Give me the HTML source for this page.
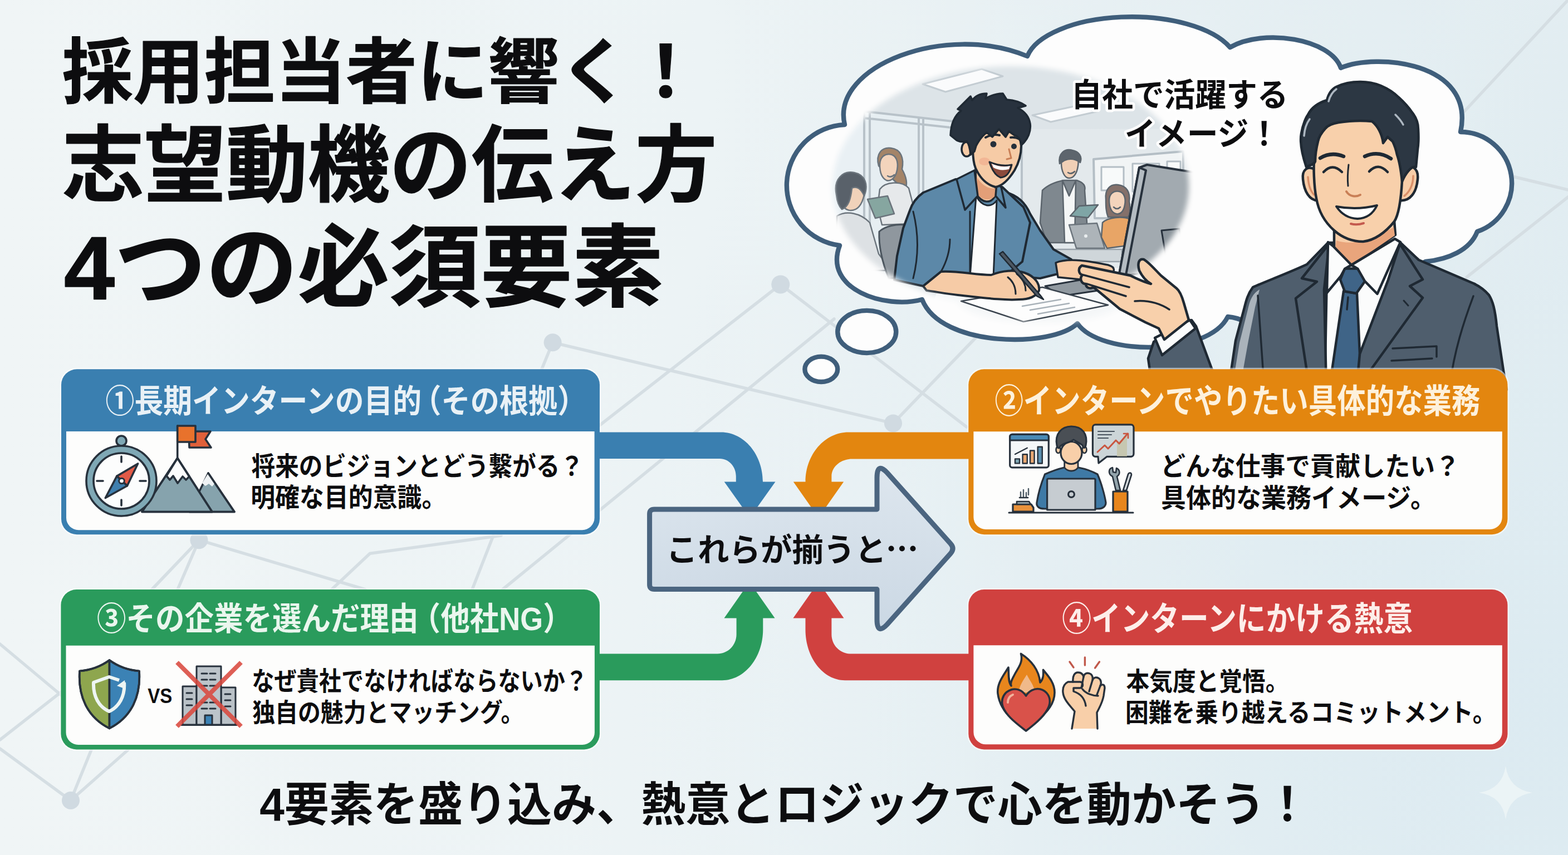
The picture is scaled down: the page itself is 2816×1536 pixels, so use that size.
<!DOCTYPE html>
<html lang="ja"><head><meta charset="utf-8"><title>採用担当者に響く！志望動機の伝え方 4つの必須要素</title>
<style>
html,body{margin:0;padding:0;background:#e9f0f4}
body{width:2816px;height:1536px;overflow:hidden;position:relative;font-family:"Liberation Sans",sans-serif}
svg{position:absolute;left:0;top:0;display:block}
svg text{font-family:"Liberation Sans","Noto Sans CJK JP",sans-serif;font-weight:bold}
.t{position:absolute;margin:0;color:transparent;white-space:nowrap;overflow:hidden;line-height:1;font-weight:bold}
</style></head><body>
<svg width="2816" height="1536" viewBox="0 0 2816 1536"><defs>
<linearGradient id="bgG" x1="0" y1="0" x2="1" y2="0"><stop offset="0" stop-color="#f0f5f6"/><stop offset=".45" stop-color="#ecf3f5"/><stop offset="1" stop-color="#e3edf1"/></linearGradient>
<radialGradient id="bgH" gradientUnits="userSpaceOnUse" cx="2816" cy="1300" r="1800"><stop offset="0" stop-color="#dbeaf1" stop-opacity=".9"/><stop offset=".5" stop-color="#deecf2" stop-opacity=".4"/><stop offset="1" stop-color="#e3eef3" stop-opacity="0"/></radialGradient>
<linearGradient id="arG" x1="0" y1="0" x2="0" y2="1"><stop offset="0" stop-color="#dde6ee"/><stop offset="1" stop-color="#cbd8e4"/></linearGradient>
<filter id="blurV" x="-20%" y="-20%" width="140%" height="140%"><feGaussianBlur stdDeviation="5"/></filter>
<mask id="vig" maskUnits="userSpaceOnUse" x="1380" y="40" width="820" height="620"><rect x="1380" y="40" width="820" height="620" fill="#000"/><g filter="url(#blurV)" fill="#fff"><ellipse cx="1815" cy="335" rx="320" ry="216"/><ellipse cx="1870" cy="538" rx="150" ry="42"/></g></mask>
</defs>

<rect width="2816" height="1536" fill="url(#bgG)"/>
<rect width="2816" height="1536" fill="url(#bgH)"/>
<g stroke="#d5dee3" stroke-width="5.5" fill="none" stroke-linecap="round">
<path d="M992.6,615.3 L1604,760.4"/>
<path d="M992.6,615.3 L973,663"/>
<path d="M1401.8,511 L1077,764"/>
<path d="M1401.8,511 L1736,767"/>
<path d="M1498,573 L902.5,1059"/>
<path d="M1752,607 L1604,760.4"/>
<path d="M2816,0 L2630,200"/>
<path d="M2704,314 L2816,341"/>
<path d="M2816,354 L2634,498"/>
<path d="M357.4,970.2 L272.7,1059"/>
<path d="M357.4,970.2 L319,1059"/>
<path d="M357.4,970.2 L656,1059"/>
<path d="M595.6,1059 L664.3,994.4 L900,962"/>
<path d="M886,962 L848,1059"/>
<path d="M0,1157 L110,1249"/>
<path d="M110,1243 L0,1329"/>
<path d="M0,1345 L127,1438"/>
<path d="M127,1438 L230,1347"/>
<path d="M127,1438 L164,1347"/>
</g>
<g fill="#d0dae1">
<circle cx="992.6" cy="615.3" r="16"/><circle cx="1401.8" cy="511" r="16.5"/><circle cx="357.4" cy="970.2" r="16"/>
<circle cx="127" cy="1438" r="16"/><circle cx="1604" cy="760.4" r="16"/>
</g>

<text x="111.4" y="175" font-size="128" fill="#0d0d0f" stroke="#0d0d0f" stroke-width="1.2" stroke-linejoin="round" textLength="1148" lengthAdjust="spacingAndGlyphs">採用担当者に響く！</text>
<text x="111.7" y="350" font-size="150" fill="#0d0d0f" stroke="#0d0d0f" stroke-width="1.3" stroke-linejoin="round" textLength="1176" lengthAdjust="spacingAndGlyphs">志望動機の伝え方</text>
<text x="114.7" y="538" font-size="161" fill="#0d0d0f" stroke="#0d0d0f" stroke-width="1.4" stroke-linejoin="round" textLength="1077" lengthAdjust="spacingAndGlyphs">4つの必須要素</text>

<path d="M1508,441 A109,109 0 0 1 1517,224 C1492,118 1700,40 1845,101 A190,86 0 0 1 2209,85
 C2270,50 2390,70 2408,122 C2470,95 2650,110 2623,237 A92,92 0 0 1 2653,416 C2640,450 2600,466 2560,470
 L2400,560 L2262,600 Q2240,572 2205,569 C2170,640 1975,640 1935,581 C1890,625 1690,625 1656,538
 C1590,556 1478,520 1508,441 Z" fill="#fdfdfd" stroke="#3f5e7b" stroke-width="8.4" stroke-linejoin="round"/>
<ellipse cx="1556.8" cy="596" rx="52.5" ry="38.1" fill="#fdfdfd" stroke="#3f5e7b" stroke-width="8.4"/>
<ellipse cx="1474.8" cy="663.3" rx="29.4" ry="22.7" fill="#fdfdfd" stroke="#3f5e7b" stroke-width="8.4"/>

<g id="scene" mask="url(#vig)" stroke-linejoin="round" stroke-linecap="round">
<!-- room -->
<rect x="1400" y="60" width="800" height="600" fill="#dfe6ea"/>
<path d="M1400,60 H2200 V230 L1835,232 L1552,200 L1400,215 Z" fill="#dde4e8"/>
<path d="M1552,200 L1835,232 L1835,470 L1552,470 Z" fill="#e6eef2"/>
<path d="M1400,215 L1552,200 V480 H1400 Z" fill="#e9f0f4"/>
<path d="M1835,232 H2200 V480 H1835 Z" fill="#e3e9ec"/>
<g fill="none" stroke="#b8c2c9" stroke-width="4">
<path d="M1552,200 V470 M1562,202 V470 M1650,212 V470 M1658,213 V470 M1552,200 L1835,232 M1552,212 L1835,243 M1835,232 V460"/>
</g>
<path d="M1657,151 L1763,124 L1801,137 L1698,165 Z M1854,207 L1934,190 L1972,200 L1887,219 Z" fill="#fafbfc" stroke="#c3ccd2" stroke-width="3"/>
<!-- whiteboard -->
<path d="M1964,286 L2125,272 L2125,392 L1966,392 Z" fill="#f1f4f5" stroke="#b4bec5" stroke-width="4"/>
<path d="M1978,300 h40 v42 h-40z M2034,294 h48 v50 h-48z M2096,290 h24 v40 h-24z" fill="#f8fafa" stroke="#b4bec5" stroke-width="3"/>
<!-- back desk -->
<path d="M1893,448 H2015 V470 H1893 Z" fill="#cfd6da" stroke="#9aa4ab" stroke-width="2.5"/>
<!-- bg man (from back) -->
<g stroke="#6b747c" stroke-width="2.5" transform="translate(0 16)">
<path d="M1503,372 C1520,362 1545,366 1562,384 L1578,440 L1600,470 L1500,470 Z" fill="#dde1e4"/>
<path d="M1506,330 C1502,308 1516,296 1532,298 C1548,300 1556,314 1552,334 C1548,352 1540,362 1528,362 C1516,362 1508,350 1506,330 Z" fill="#f0d2ba"/>
<path d="M1502,334 C1496,306 1514,290 1534,294 C1554,298 1560,316 1552,336 C1546,322 1538,318 1530,322 C1528,340 1524,356 1512,360 C1506,354 1503,344 1502,334 Z" fill="#59616a"/>
</g>
<!-- bg woman with tablet -->
<g stroke="#6b747c" stroke-width="2.5">
<path d="M1578,298 C1572,276 1584,264 1600,266 C1618,268 1624,284 1620,304 C1628,318 1630,330 1626,340 L1612,330 Z" fill="#a48468"/>
<path d="M1580,296 C1580,282 1590,274 1602,278 C1612,282 1614,296 1610,310 C1606,322 1598,326 1592,324 C1584,320 1580,310 1580,296 Z" fill="#f3d4bc"/>
<path d="M1580,340 C1590,326 1620,324 1632,338 L1642,376 L1636,402 L1584,404 L1576,372 Z" fill="#e6e9eb"/>
<path d="M1558,358 L1594,352 L1606,384 L1572,392 Z" fill="#86a6a0"/>
<path d="M1594,316 Q1600,320 1606,314" fill="none"/>
</g>
<!-- chair -->
<path d="M1579,416 C1590,406 1610,402 1626,404 L1626,500 L1596,500 C1584,470 1578,440 1579,416 Z" fill="#8f979e" stroke="#4b555e" stroke-width="3"/>
<!-- standing man -->
<g stroke="#5b646c" stroke-width="2.5">
<path d="M1872,342 C1884,330 1900,326 1910,324 L1934,324 C1946,328 1950,334 1948,342 L1952,400 L1940,436 L1880,436 L1868,400 Z" fill="#7f888f"/>
<path d="M1908,324 L1920,352 L1932,324 L1930,436 L1912,436 Z" fill="#f4f6f6"/>
<path d="M1906,292 C1906,278 1914,272 1924,274 C1934,276 1938,286 1936,298 C1934,312 1928,320 1920,320 C1912,320 1906,308 1906,292 Z" fill="#f1d0b6"/>
<path d="M1903,294 C1900,276 1912,266 1926,270 C1938,272 1944,282 1940,292 C1932,286 1922,284 1912,288 Z" fill="#5d656d"/>
<path d="M1922,388 L1938,370 L1972,368 L1954,391 Z" fill="#7fa5a6"/>
<path d="M1918,310 Q1924,314 1930,308" fill="none"/>
</g>
<!-- laptop on back desk -->
<path d="M1920,404 L1970,401 L1984,446 L1933,446 Z" fill="#adb4b9" stroke="#6b747c" stroke-width="2.5"/>
<circle cx="1950" cy="424" r="3" fill="#e8ecee"/>
<!-- sitting woman -->
<g stroke="#5b646c" stroke-width="2.5">
<path d="M1986,358 C1984,340 1994,330 2008,332 C2024,334 2030,346 2028,362 C2030,374 2030,384 2026,390 L1990,390 C1986,380 1986,370 1986,358 Z" fill="#84706a"/>
<path d="M1992,360 C1992,348 2000,342 2010,344 C2020,346 2022,358 2020,368 C2018,380 2012,386 2004,384 C1996,382 1992,372 1992,360 Z" fill="#f3d4bc"/>
<path d="M1980,400 C1990,390 2016,388 2030,394 L2034,440 L1988,446 L1978,426 Z" fill="#e8a566"/>
<path d="M2000,372 Q2006,378 2012,372" fill="none"/>
</g>
<!-- desk surface -->
<path d="M1690,505 L1890,470 L2200,500 L2200,640 L1640,640 Z" fill="#f5f7f8"/>
<!-- monitor -->
<g stroke="#27313c" stroke-width="4">
<path d="M2046,301 L2060,296 L2160,312 L2160,480 L2030,494 L2010,492 Z" fill="#a2aab0"/>
<path d="M2046,301 L2010,492 L2022,494 L2058,306 Z" fill="#b4bcc2"/>
<path d="M2086,414 L2118,411 L2126,460 L2094,462 Z" fill="#8a939a" stroke-width="3"/>
</g>
<!-- keyboard -->
<path d="M1877,514 L1940,503 L1972,522 L1905,532 Z" fill="#9099a0" stroke="#27313c" stroke-width="3"/>
<!-- paper -->
<path d="M1726,541 L1872,516 L1990,548 L1838,578 Z" fill="#fdfdfd" stroke="#39434d" stroke-width="2.5"/>
<path d="M1836,550 L1905,538 M1850,557 L1920,545 M1864,564 L1930,552" fill="none" stroke="#a9b2b9" stroke-width="2.5"/>
<!-- young man -->
<g stroke="#1f2933" stroke-width="4">
<!-- right arm (behind body) -->
<path d="M1808,346 C1830,352 1842,366 1850,384 L1868,414 L1892,448 L1924,466 L1908,490 L1868,500 L1790,494 Z" fill="#5c88a8"/>
<path d="M1896,472 C1920,462 1960,470 1990,476 C2004,480 2004,490 1990,492 L1940,502 L1900,498 Z" fill="#f6cba6" stroke-width="3.5"/>
<!-- body -->
<path d="M1716,322 L1658,346 C1644,356 1638,366 1634,378 L1622,410 L1611,460 L1606,503 L1658,514 L1690,488 L1740,500 L1800,500 L1836,470 L1850,400 L1838,372 L1800,336 Z" fill="#5c88a8"/>
<path d="M1640,380 C1650,420 1650,460 1640,500 M1690,488 C1700,470 1706,450 1706,430" fill="none" stroke-width="3"/>
<!-- tee -->
<path d="M1753,352 C1764,372 1780,374 1790,360 L1784,498 L1742,498 Z" fill="#fbfbfb" stroke-width="3"/>
<!-- neck -->
<path d="M1752,300 L1753,348 C1764,366 1780,366 1787,352 L1788,330 Z" fill="#f6cba6" stroke-width="3.5"/>
<path d="M1754,318 C1766,336 1778,340 1788,338 L1787,352 C1778,362 1764,360 1754,348 Z" fill="#e39f78" stroke="none"/>
<!-- collar -->
<path d="M1718,322 L1733,377 L1756,352 L1750,306 Z" fill="#5c88a8" stroke-width="3.5"/>
<path d="M1798,336 L1806,373 L1788,352 L1790,330 Z" fill="#5c88a8" stroke-width="3.5"/>
<path d="M1742,380 V498" fill="none" stroke-width="3"/>
<!-- ear + face -->
<ellipse cx="1736" cy="268" rx="9" ry="13" fill="#f6cba6" stroke-width="3.5"/>
<path d="M1748,250 C1746,276 1748,292 1752,302 C1760,320 1772,332 1788,336 C1800,334 1812,322 1822,306 C1830,292 1834,276 1834,262 L1830,236 L1770,230 Z" fill="#f6cba6"/>
<ellipse cx="1768" cy="290" rx="10" ry="7" fill="#f0a98a" stroke="none" opacity=".6"/>
<!-- mouth -->
<path d="M1777,291 Q1798,300 1817,296 Q1812,318 1797,319 Q1784,314 1777,291 Z" fill="#8c4b3c" stroke-width="3"/>
<path d="M1781,294 Q1798,302 1814,298 L1812,304 Q1796,308 1784,301 Z" fill="#fff" stroke="none"/>
<!-- eyes brows nose -->
<circle cx="1784" cy="259" r="5.5" fill="#26303b" stroke="none"/><circle cx="1821" cy="263" r="5" fill="#26303b" stroke="none"/>
<path d="M1770,247 Q1782,240 1795,243 M1815,247 Q1824,246 1831,250" fill="none" stroke-width="4"/>
<path d="M1812,268 L1816,284 L1808,286" fill="none" stroke="#c97f56" stroke-width="3"/>
<!-- hair -->
<path d="M1707,243 C1708,222 1714,208 1726,199 L1720,196 C1730,186 1738,178 1743,173 L1746,180 C1752,172 1762,168 1772,168 L1770,177 C1782,170 1792,168 1801,168 L1808,179 C1822,180 1834,184 1842,190 L1828,194 C1840,200 1848,210 1850,222 C1852,236 1846,250 1835,260 C1832,250 1828,244 1822,243 L1812,236 L1806,246 L1794,232 L1782,246 L1772,238 C1762,246 1756,256 1753,262 L1750,272 L1743,278 C1742,266 1740,258 1736,254 C1728,256 1722,254 1718,252 Z" fill="#28323e" stroke-width="3.5"/>
<!-- left forearm + hand + pen -->
<path d="M1658,514 L1690,488 C1720,486 1750,494 1780,494 C1800,486 1822,484 1840,490 C1858,496 1868,510 1866,522 C1860,534 1846,538 1830,538 C1800,540 1760,534 1720,530 C1700,528 1680,524 1664,522 Z" fill="#f6cba6"/>
<path d="M1801,452 L1868,530 L1874,538 L1862,532 L1795,456 Z" fill="#4d5863" stroke-width="2.5"/>
<path d="M1826,492 C1836,500 1842,510 1842,522 M1810,498 C1820,506 1824,516 1824,528" fill="none" stroke-width="3"/>
</g>
</g>

<text x="1923.6" y="190.5" font-size="58" fill="#0d0d0f" stroke="#fff" stroke-width="9.5" stroke-linejoin="round" paint-order="stroke" textLength="390" lengthAdjust="spacingAndGlyphs">自社で活躍する</text>
<text x="2019.8" y="260.9" font-size="58" fill="#0d0d0f" stroke="#fff" stroke-width="9.5" stroke-linejoin="round" paint-order="stroke" textLength="278.5" lengthAdjust="spacingAndGlyphs">イメージ！</text>
<g id="man" stroke="#1f2933" stroke-width="4.5" stroke-linejoin="round" stroke-linecap="round">
<!-- jacket -->
<path d="M2385,436 L2347,475 C2310,492 2272,506 2250,516 C2241,528 2238,540 2235,552 L2219,612 L2206,700 L2706,700 L2701,672 L2688,586 C2685,556 2681,541 2674,530 C2662,516 2652,512 2646,509 L2548,467 L2515,436 Z" fill="#4f5e6d"/>
<path d="M2262,520 C2246,530 2244,545 2241,556 L2226,616 L2214,690 L2228,690 L2242,612 L2254,552 Z" fill="#aab3bb" stroke="none"/>
<!-- shirt -->
<path d="M2384,440 L2379,700 L2440,700 L2495,500 L2516,440 Z" fill="#fbfcfc"/>
<!-- tie -->
<path d="M2413,523 L2437,527 L2445,700 L2387,700 Z" fill="#3f6487"/>
<path d="M2415,482.5 L2438.5,482.5 L2451.5,505 L2436,527 L2415,523.5 L2407,502.5 Z" fill="#3f6487"/>
<path d="M2421,534 L2419,556" fill="none" stroke-width="3.5"/>
<!-- lapels -->
<path d="M2387,438 L2338,500 L2365,506 L2327,536 L2352,700 L2382,700 L2378,520 Z" fill="#4f5e6d"/>
<path d="M2514,438 L2555,502 L2532,514 L2555,535 L2436,700 L2442,636 L2493,503 Z" fill="#4f5e6d"/>
<path d="M2521,540 L2529,549" fill="none" stroke-width="3"/>
<!-- neck -->
<path d="M2396,408 L2396,446 L2427,477 L2506,422 L2504,396 Z" fill="#f7cda8"/>
<path d="M2400,432 Q2440,446 2503,408 L2505,423 L2427,476 L2398,447 Z" fill="#e9a57c" stroke="none"/>
<!-- collar -->
<path d="M2385,435 L2394,442 L2427,476 L2415,483 L2408,496 L2383,526 Z" fill="#fbfcfc"/>
<path d="M2515,435 L2505,429 L2427,476 L2438.5,483 L2451,505 L2473.5,528 Z" fill="#fbfcfc"/>
<!-- pocket / creases -->
<path d="M2501,626 L2580,622 L2580,641 M2499,648 L2572,644" fill="none" stroke-width="3.5"/>
<path d="M2259,531 C2262,580 2266,630 2270,690" fill="none" stroke-width="3.5"/>
<path d="M2646,532 C2628,580 2612,630 2604,690" fill="none" stroke-width="3.5"/>
<!-- ears -->
<path d="M2362,305 C2348,296 2338,306 2340,322 C2342,344 2352,360 2366,360 Z" fill="#f7cda8"/>
<path d="M2518,305 C2534,292 2548,302 2546,322 C2544,346 2532,362 2514,360 Z" fill="#f7cda8"/>
<path d="M2349,318 C2350,334 2354,344 2360,350 M2538,316 C2538,334 2530,346 2522,352" fill="none" stroke="#d98f68" stroke-width="3.5"/>
<!-- face -->
<path d="M2361,270 C2358,300 2360,336 2364,356 C2368,380 2378,398 2396,414 C2412,428 2430,434 2448,434 C2468,432 2488,418 2504,398 C2512,386 2516,360 2518,325 C2520,290 2514,262 2500,236 L2470,205 L2390,205 L2364,240 Z" fill="#f8d0ab"/>
<!-- hair -->
<path d="M2346,300 C2338,276 2334,256 2337,240 C2340,222 2346,210 2349,206 C2356,192 2370,184 2383,180 C2386,168 2392,160 2400,156 C2412,150 2428,147 2443,147 C2458,147 2470,150 2480,154 C2494,160 2504,167 2512,175 C2524,186 2532,196 2536,202 C2544,212 2547,222 2547,232 C2548,250 2547,262 2546,268 L2543,300 C2534,298 2524,312 2518,326 C2516,306 2514,292 2509,278 C2507,268 2504,260 2501,254 L2492,246 L2484,257 C2482,240 2474,226 2464,218 C2444,216 2424,217 2404,220 C2392,222 2384,226 2380,231 C2372,240 2368,248 2367,254 C2364,266 2362,278 2362,290 C2360,296 2354,296 2346,300 Z" fill="#2c3743"/>
<path d="M2352,214 C2346,222 2343,232 2342,244 M2400,160 C2392,166 2388,174 2386,182 M2506,206 C2512,212 2517,218 2520,224" fill="none" stroke="#aeb8c2" stroke-width="3.5"/>
<!-- brows -->
<path d="M2371,284 Q2391,272 2413,281" fill="none" stroke-width="6.5"/>
<path d="M2451,281 Q2475,270 2498,285" fill="none" stroke-width="6.5"/>
<!-- eyes -->
<path d="M2377,309 Q2393,292 2410,309" fill="none" stroke-width="4.5"/>
<path d="M2459,308 Q2475,291 2492,309" fill="none" stroke-width="4.5"/>
<!-- nose -->
<path d="M2422,296 C2420,312 2420,324 2421,334" fill="none" stroke-width="3"/>
<path d="M2418,344 C2424,354 2436,354 2443,350" fill="none" stroke="#c97f56" stroke-width="4"/>
<!-- mouth -->
<path d="M2400,371 Q2437,378 2473,369 Q2462,392 2438,393 Q2414,392 2400,371 Z" fill="#fff" stroke-width="4"/>
<path d="M2426,402 Q2437,405 2449,401" fill="none" stroke="#c45a4e" stroke-width="4"/>
<!-- sleeve + cuff + hand -->
<path d="M2140,575 L2148,586 L2190,700 L2070,700 L2062,644 L2072,614 Z" fill="#4f5e6d"/>
<path d="M2074,607 L2137,575 L2147,590 L2087,638 Z" fill="#fbfcfc"/>
<path d="M1943,477 C1935,482 1937,492 1944,494 C1938,500 1942,510 1950,510 C1950,516 1956,520 1964,516 L2011,555 L2057,579 L2081,590 L2091,610 L2135,575 L2126,544 C2122,530 2118,522 2113,518 L2085,495 C2072,482 2062,470 2054,466 C2046,464 2042,472 2046,486 C2052,498 2060,506 2067,510 C2052,506 2040,500 2030,495 Z" fill="#f8d0ab"/>
<path d="M1946,494 L2028,516 M1952,510 L2022,532 M2038,541 Q2072,538 2100,556" fill="none" stroke-width="3.5"/>
</g>

<rect x="110" y="663.3" width="967" height="296.9" rx="28" fill="#3a7fb0" stroke="#fff" stroke-opacity=".55" stroke-width="5" paint-order="stroke"/><path d="M119,775 H1067.6 V930.2 a22,22 0 0 1 -22,22 H141 a22,22 0 0 1 -22,-22 Z" fill="#fdfdfc"/><rect x="1739.3" y="663.3" width="968.2" height="296.9" rx="28" fill="#e3860f" stroke="#fff" stroke-opacity=".55" stroke-width="5" paint-order="stroke"/><path d="M1748.4,775.3 H2697.8 V929 a22,22 0 0 1 -22,22 H1770.4 a22,22 0 0 1 -22,-22 Z" fill="#fdfdfc"/><rect x="109.4" y="1059" width="967.6" height="287.4" rx="28" fill="#2a9b5c" stroke="#fff" stroke-opacity=".55" stroke-width="5" paint-order="stroke"/><path d="M118.5,1159.8 H1067.9 V1315.9 a22,22 0 0 1 -22,22 H140.5 a22,22 0 0 1 -22,-22 Z" fill="#fdfdfc"/><rect x="1739.3" y="1059" width="968.2" height="287.4" rx="28" fill="#d0413f" stroke="#fff" stroke-opacity=".55" stroke-width="5" paint-order="stroke"/><path d="M1748.4,1159.3 H2697.8 V1315.3 a22,22 0 0 1 -22,22 H1770.4 a22,22 0 0 1 -22,-22 Z" fill="#fdfdfc"/>

<path d="M1070,776.4 H1295 C1336.4,776.4 1370,816.3 1370,865.5 H1392.5 L1346.6,930 L1300.7,865.5 H1321.8 V855.6 C1321.8,838.1 1308.8,823.9 1292.8,823.9 H1070 Z" fill="#3a7fb0"/>
<path d="M1745,776.4 H1523.8 C1481.2,776.4 1446.6,816.3 1446.6,865.5 H1424.8 L1470,930 L1515.2,865.5 H1493.4 V855.6 C1493.4,838.5 1510,824.6 1530.4,824.6 H1745 Z" fill="#e3860f"/>
<path d="M1070,1222.2 H1297 C1337.3,1222.2 1370.3,1181.3 1370.3,1131 V1110.5 H1391.6 L1346,1045.6 L1300.5,1110.5 H1322.6 V1139.7 C1322.6,1159 1307.2,1174.5 1288.4,1174.5 H1070 Z" fill="#2a9b5c"/>
<path d="M1745,1222.2 H1517.6 C1478.3,1222.2 1446.5,1181.3 1446.5,1131 V1110.5 H1424.4 L1470,1045.6 L1515.5,1110.5 H1493.4 V1139.7 C1493.4,1159 1508.7,1174.5 1527.6,1174.5 H1745 Z" fill="#d0413f"/>
<path d="M1166.6,923 Q1166.6,914.9 1175,914.9 H1575 V858 Q1575,830 1593,849 L1707,976.5 Q1715,985.5 1707,994.5 L1593,1122 Q1575,1141 1575,1113 V1058.6 H1175 Q1166.6,1058.6 1166.6,1050.5 Z" fill="url(#arG)" stroke="#4b6580" stroke-width="9" stroke-linejoin="round"/>

<g id="icons" stroke="#27313c" stroke-width="3.6" stroke-linejoin="round" stroke-linecap="round">
<!-- ===== icon 1: compass + mountain + flag ===== -->
<path d="M374,850 L421,919.5 H340 Z" fill="#86a3ad"/>
<path d="M374,850 L363,868 L369,873 L375,869 L381,874 L386,868 Z" fill="#eef2f4" stroke="none"/>
<path d="M374,850 L421,919.5 H340" fill="none"/>
<path d="M318.7,823 L381,919.5 H255 Z" fill="#86a3ad"/>
<path d="M318.7,823 L299,855 L305,862 L311,855 L319,868 L328,856 L334,862 L340,856 Z" fill="#fcfdfd"/>
<path d="M318.7,823 L381,919.5 H255 Z" fill="none"/>
<path d="M318.7,823 V765" fill="none"/>
<path d="M339,775 H378 L369,789 L379,804 H340 Z" fill="#e0603a"/>
<path d="M318.7,765 H351 V794 H318.7 Z" fill="#e8722c"/>
<circle cx="218" cy="792" r="9" fill="#7fa8b5"/>
<circle cx="218" cy="864" r="63" fill="#7fa8b5"/>
<circle cx="218" cy="864" r="50" fill="#fcfdfd"/>
<path d="M218,820 V830 M218,898 V908 M174,864 H185 M251,864 H262" fill="none"/>
<path d="M247.6,833 L228.4,872.7 L209.8,855.4 Z" fill="#e25a47"/>
<path d="M189.3,894.5 L209.8,855.4 L228.4,872.7 Z" fill="#3f7fae"/>
<circle cx="218.5" cy="864" r="4.8" fill="#fcfdfd" stroke-width="3"/>
<!-- ===== icon 2: worker at laptop ===== -->
<g stroke-width="3.2">
<rect x="1813.7" y="780.4" width="69.6" height="59.5" rx="4" fill="#f4f7f8"/>
<path d="M1813.7,791 V784.4 a4,4 0 0 1 4,-4 H1879.3 a4,4 0 0 1 4,4 V791 Z" fill="#4a8ab5"/>
<path d="M1823,824.4 h8 v8 h-8z" fill="#7fa8b5" stroke-width="2.4"/>
<path d="M1836.6,816.3 h8.2 v16.2 h-8.2z M1850,809.5 h7.6 v23 h-7.6z" fill="#e9a872" stroke-width="2.4"/>
<path d="M1863.7,802.7 h8.1 v29.8 h-8.1z" fill="#5b8fae" stroke-width="2.4"/>
<path d="M1823,816 L1844.8,804.8" fill="none" stroke-width="2.4"/>
<!-- bubble -->
<path d="M1967.4,762.8 H2031 a5,5 0 0 1 5,5 V815.3 a5,5 0 0 1 -5,5 H1988 L1973,832 L1972,820.3 H1967.4 a5,5 0 0 1 -5,-5 V767.8 a5,5 0 0 1 5,-5 Z" fill="#ccd5d8"/>
<path d="M2006,820 V796 L2024,782 V820 Z" fill="#c4c3a8" stroke="none" opacity=".8"/>
<path d="M1972,775 H2001 M1972,781 H1996 M1972,787 H1990" fill="none" stroke="#4a5560" stroke-width="2.2"/>
<path d="M1971,812 L1984,800 L1990,806 L2004,791 L2010,797 L2025,779" fill="none" stroke="#c9553f" stroke-width="3"/>
<path d="M2018,779 H2026 V787" fill="none" stroke="#c9553f" stroke-width="2.6"/>
<!-- body -->
<path d="M1876.5,852 C1890,846 1902,842 1911,840 H1937 C1948,842 1960,846 1971,852 C1978,868 1984,890 1986,903 C1986,910 1980,914 1972,914 H1876 C1866,914 1861,910 1862,903 C1864,890 1870,868 1876.5,852 Z" fill="#3f7aa6"/>
<path d="M1911.7,828 V840 C1918,848 1930,848 1936,840 V828 Z" fill="#f8cfa9" stroke-width="2.8"/>
<ellipse cx="1900.5" cy="808" rx="4" ry="6" fill="#f8cfa9" stroke-width="2.6"/><ellipse cx="1947.5" cy="808" rx="4" ry="6" fill="#f8cfa9" stroke-width="2.6"/>
<ellipse cx="1924" cy="813.5" rx="19" ry="20" fill="#f8cfa9"/>
<path d="M1898,800 C1894,780 1906,766 1924,766 C1944,766 1954,780 1950,800 C1948,806 1946,806 1944,800 C1940,796 1934,794 1928,790 C1920,796 1908,796 1904,802 C1902,806 1899,806 1898,800 Z" fill="#4a4f55"/>
<!-- laptop -->
<path d="M1880.6,862 a2,2 0 0 1 2,-2 H1965 a2,2 0 0 1 2,2 V916 H1880.6 Z" fill="#c6ccd1"/>
<circle cx="1924" cy="888" r="5.4" fill="#c6ccd1"/>
<!-- cup etc -->
<path d="M1999,883 H2025 V919 H1999 Z" fill="#e8861d"/>
<path d="M2004,881 L1998,856 C1990,852 1990,842 1998,840 L1999,848 L2004,849 L2005,841 C2012,844 2012,852 2006,856 L2012,881 Z" fill="#93a4ab" stroke-width="2.6"/>
<path d="M2017,881 L2026,852 C2028,848 2032,849 2032,853 L2023,881 Z" fill="#d5dadd" stroke-width="2.6"/>
<path d="M1819,906 H1852 L1856,912 V919 H1819 Z" fill="#e8923c"/><path d="M1826,901 H1848 L1851,906 H1826 Z" fill="#9fb1b7" stroke-width="2.6"/>
<path d="M1833,893 V884 M1838,893 V880 M1843,893 V885 M1847,889 V878" fill="none" stroke="#4c5964" stroke-width="2.4"/>
<path d="M1831,894 H1846" fill="none" stroke-width="2.6"/>
<path d="M1812,921 H2035" fill="none" stroke-width="3"/>
</g>
<!-- ===== icon 3: shield vs building ===== -->
<path d="M196.5,1186 C180,1198 162,1204 143,1205.5 C140,1250 156,1288 196.5,1308.5 Z" fill="#8ea64e"/>
<path d="M196.5,1186 C213,1198 231,1204 250,1205.5 C253,1250 237,1288 196.5,1308.5 Z" fill="#3b82b5"/>
<path d="M196.5,1186 C180,1198 162,1204 143,1205.5 C140,1250 156,1288 196.5,1308.5 C237,1288 253,1250 250,1205.5 C231,1204 213,1198 196.5,1186 Z" fill="none"/>
<path d="M214,1222 L196,1216 L168,1226 C167,1252 178,1270 196,1278 C214,1270 225,1250 223,1226" fill="none" stroke="#edf5f3" stroke-width="6" stroke-linecap="butt"/>
<path d="M210,1232 L224,1222 L226,1238" fill="#edf5f3" stroke="none"/>
<g stroke-width="3">
<path d="M328,1233 H353 V1302 H328 Z M397,1235 H423 V1302 H397 Z" fill="#b9c1c7"/>
<path d="M353,1197 H397 V1302 H353 Z" fill="#bcc4ca"/>
<path d="M368,1285 H381 V1302 H368 Z" fill="#3b82b5"/>
<path d="M362,1210 h10 M377,1210 h10 M362,1221 h10 M377,1221 h10 M362,1232 h10 M377,1232 h10 M362,1262 h10 M377,1262 h10 M362,1273 h10 M377,1273 h10 M335,1245 h10 M335,1256 h10 M335,1267 h10 M404,1247 h10 M404,1258 h10 M404,1269 h10" fill="none" stroke-width="3"/>
<path d="M326,1302.5 H425" fill="none"/>
</g>
<path d="M318,1190 L433,1305 M433,1190 L318,1305" fill="none" stroke="#d9493f" stroke-width="8" stroke-linecap="butt" opacity=".88"/>
<!-- ===== icon 4: burning heart + fist ===== -->
<path d="M1833.5,1174.5 C1838,1190 1828,1200 1822,1212 C1818,1220 1814,1226 1816,1232 C1810,1224 1812,1210 1811,1199 C1802,1214 1790,1228 1792,1246 C1794,1262 1800,1272 1808,1282 L1876,1282 C1886,1272 1894,1260 1894,1244 C1894,1226 1882,1214 1873.5,1203.5 C1874,1212 1874,1220 1868,1226 C1866,1204 1852,1186 1833.5,1174.5 Z" fill="#e8861d"/>
<path d="M1844,1212 C1838,1222 1830,1232 1830,1244 L1858,1244 C1858,1232 1850,1224 1844,1212 Z" fill="#f0b98a" stroke="none"/>
<path d="M1842.6,1250 C1836,1240 1826,1236 1816,1239 C1804,1243 1798,1254 1800,1266 C1804,1284 1826,1300 1842.6,1313 C1860,1300 1882,1282 1885,1264 C1887,1252 1880,1241 1868,1238 C1858,1236 1848,1241 1842.6,1250 Z" fill="#d9524a"/>
<path d="M1810,1262 C1810,1254 1814,1250 1819,1248" fill="none" stroke="#f3b39d" stroke-width="4"/>
<g stroke-width="3.4">
<path d="M1925,1309 L1930,1278 C1920,1266 1910,1256 1909,1244 C1908,1234 1912,1228 1918,1225 H1927 C1926,1214 1930,1208 1936,1208 C1942,1208 1945,1212 1946,1216 C1947,1210 1952,1208 1957,1210 C1962,1212 1963,1216 1962,1222 C1964,1216 1970,1216 1974,1219 C1978,1222 1978,1228 1976,1232 C1980,1228 1984,1230 1984,1236 L1982,1250 C1980,1262 1974,1272 1970,1280 L1971,1309" fill="#f8cfa9"/>
<path d="M1927,1225 H1940 C1946,1226 1946,1234 1940,1236 H1928 V1242 C1940,1246 1948,1254 1950,1268" fill="none"/>
<path d="M1946,1216 L1942,1236 M1962,1222 L1956,1242 M1976,1232 L1970,1248 M1944,1238 C1950,1246 1962,1250 1972,1250" fill="none"/>
</g>
<path d="M1921,1189 L1928,1199 M1948.4,1181 V1195 M1974.4,1189 L1966.6,1200" fill="none" stroke="#c0584a" stroke-width="3.4"/>
</g>

<text x="189.6" y="741.4" font-size="58" fill="#e9f1f6" textLength="567.6" lengthAdjust="spacingAndGlyphs">①長期インターンの目的</text>
<text x="740.3" y="741.4" font-size="58" fill="#e9f1f6" textLength="313.2" lengthAdjust="spacingAndGlyphs">（その根拠）</text>
<text x="1786.4" y="742.1" font-size="60" fill="#fdf1dc" textLength="872.1" lengthAdjust="spacingAndGlyphs">②インターンでやりたい具体的な業務</text>
<text x="173.9" y="1131.9" font-size="58" fill="#eaf6ee" textLength="577.5" lengthAdjust="spacingAndGlyphs">③その企業を選んだ理由</text>
<text x="738.6" y="1131.9" font-size="58" fill="#eaf6ee" textLength="289.2" lengthAdjust="spacingAndGlyphs">（他社NG）</text>
<text x="1907.2" y="1132.5" font-size="60" fill="#fdeeea" textLength="630" lengthAdjust="spacingAndGlyphs">④インターンにかける熱意</text>
<text x="451.6" y="854" font-size="47" fill="#0d0d0f" textLength="596.4" lengthAdjust="spacingAndGlyphs">将来のビジョンとどう繋がる？</text>
<text x="450.2" y="910.4" font-size="47" fill="#0d0d0f" textLength="351.2" lengthAdjust="spacingAndGlyphs">明確な目的意識。</text>
<text x="2084.3" y="853.8" font-size="47" fill="#0d0d0f" textLength="537.6" lengthAdjust="spacingAndGlyphs">どんな仕事で貢献したい？</text>
<text x="2085.1" y="910.7" font-size="47" fill="#0d0d0f" textLength="492.8" lengthAdjust="spacingAndGlyphs">具体的な業務イメージ。</text>
<text x="452.2" y="1240.4" font-size="47" fill="#0d0d0f" textLength="603" lengthAdjust="spacingAndGlyphs">なぜ貴社でなければならないか？</text>
<text x="453.2" y="1295.5" font-size="46" fill="#0d0d0f" textLength="487.2" lengthAdjust="spacingAndGlyphs">独自の魅力とマッチング。</text>
<text x="2022.5" y="1239.9" font-size="46" fill="#0d0d0f" textLength="291.9" lengthAdjust="spacingAndGlyphs">本気度と覚悟。</text>
<text x="2021" y="1295.6" font-size="46" fill="#0d0d0f" textLength="665.6" lengthAdjust="spacingAndGlyphs">困難を乗り越えるコミットメント。</text>
<text x="265.2" y="1263.3" font-size="36" fill="#0d0d0f" textLength="44" lengthAdjust="spacingAndGlyphs">VS</text>
<text x="1196.5" y="1008.3" font-size="57" fill="#0d0d0f" textLength="395.5" lengthAdjust="spacingAndGlyphs">これらが揃うと</text>
<g fill="#0d0d0f"><circle cx="1600.6" cy="985.5" r="5"/><circle cx="1620" cy="985.5" r="5"/><circle cx="1639.5" cy="985.5" r="5"/></g>
<text x="466.2" y="1475.3" font-size="84" fill="#0d0d0f" textLength="1886" lengthAdjust="spacingAndGlyphs">4要素を盛り込み、熱意とロジックで心を動かそう！</text>
<path d="M2704,1376 Q2710,1418 2752,1424 Q2710,1430 2704,1472 Q2698,1430 2656,1424 Q2698,1418 2704,1376 Z" fill="#ebf4f6"/></svg>
<h1 class="t" style="left:114px;top:66px;width:1056px;height:121px;font-size:130px">採用担当者に響く！</h1>
<h1 class="t" style="left:115px;top:221px;width:1165px;height:147px;font-size:158px">志望動機の伝え方</h1>
<h1 class="t" style="left:118px;top:401px;width:1069px;height:151px;font-size:163px">4つの必須要素</h1>
<p class="t" style="left:1931px;top:141px;width:375px;height:54px;font-size:58px">自社で活躍する</p>
<p class="t" style="left:2023px;top:213px;width:252px;height:50px;font-size:54px">イメージ！</p>
<h2 class="t" style="left:191px;top:692px;width:827px;height:54px;font-size:58px">①長期インターンの目的（その根拠）</h2>
<h2 class="t" style="left:1787px;top:690px;width:869px;height:56px;font-size:61px">②インターンでやりたい具体的な業務</h2>
<h2 class="t" style="left:175px;top:1082px;width:817px;height:55px;font-size:59px">③その企業を選んだ理由（他社NG）</h2>
<h2 class="t" style="left:1908px;top:1081px;width:627px;height:56px;font-size:61px">④インターンにかける熱意</h2>
<p class="t" style="left:452px;top:813px;width:585px;height:45px;font-size:48px">将来のビジョンとどう繋がる？</p>
<p class="t" style="left:453px;top:870px;width:319px;height:44px;font-size:47px">明確な目的意識。</p>
<p class="t" style="left:2091px;top:813px;width:519px;height:45px;font-size:48px">どんな仕事で貢献したい？</p>
<p class="t" style="left:2087px;top:870px;width:462px;height:44px;font-size:47px">具体的な業務イメージ。</p>
<p class="t" style="left:454px;top:1200px;width:590px;height:44px;font-size:47px">なぜ貴社でなければならないか？</p>
<p class="t" style="left:454px;top:1255px;width:460px;height:44px;font-size:47px">独自の魅力とマッチング。</p>
<p class="t" style="left:2023px;top:1200px;width:264px;height:44px;font-size:47px">本気度と覚悟。</p>
<p class="t" style="left:2024px;top:1256px;width:635px;height:43px;font-size:46px">困難を乗り越えるコミットメント。</p>
<p class="t" style="left:265px;top:1236px;width:43px;height:27px;font-size:29px">VS</p>
<p class="t" style="left:1205px;top:958px;width:439px;height:55px;font-size:59px">これらが揃うと…</p>
<p class="t" style="left:468px;top:1402px;width:1860px;height:81px;font-size:87px">4要素を盛り込み、熱意とロジックで心を動かそう！</p>
</body></html>
